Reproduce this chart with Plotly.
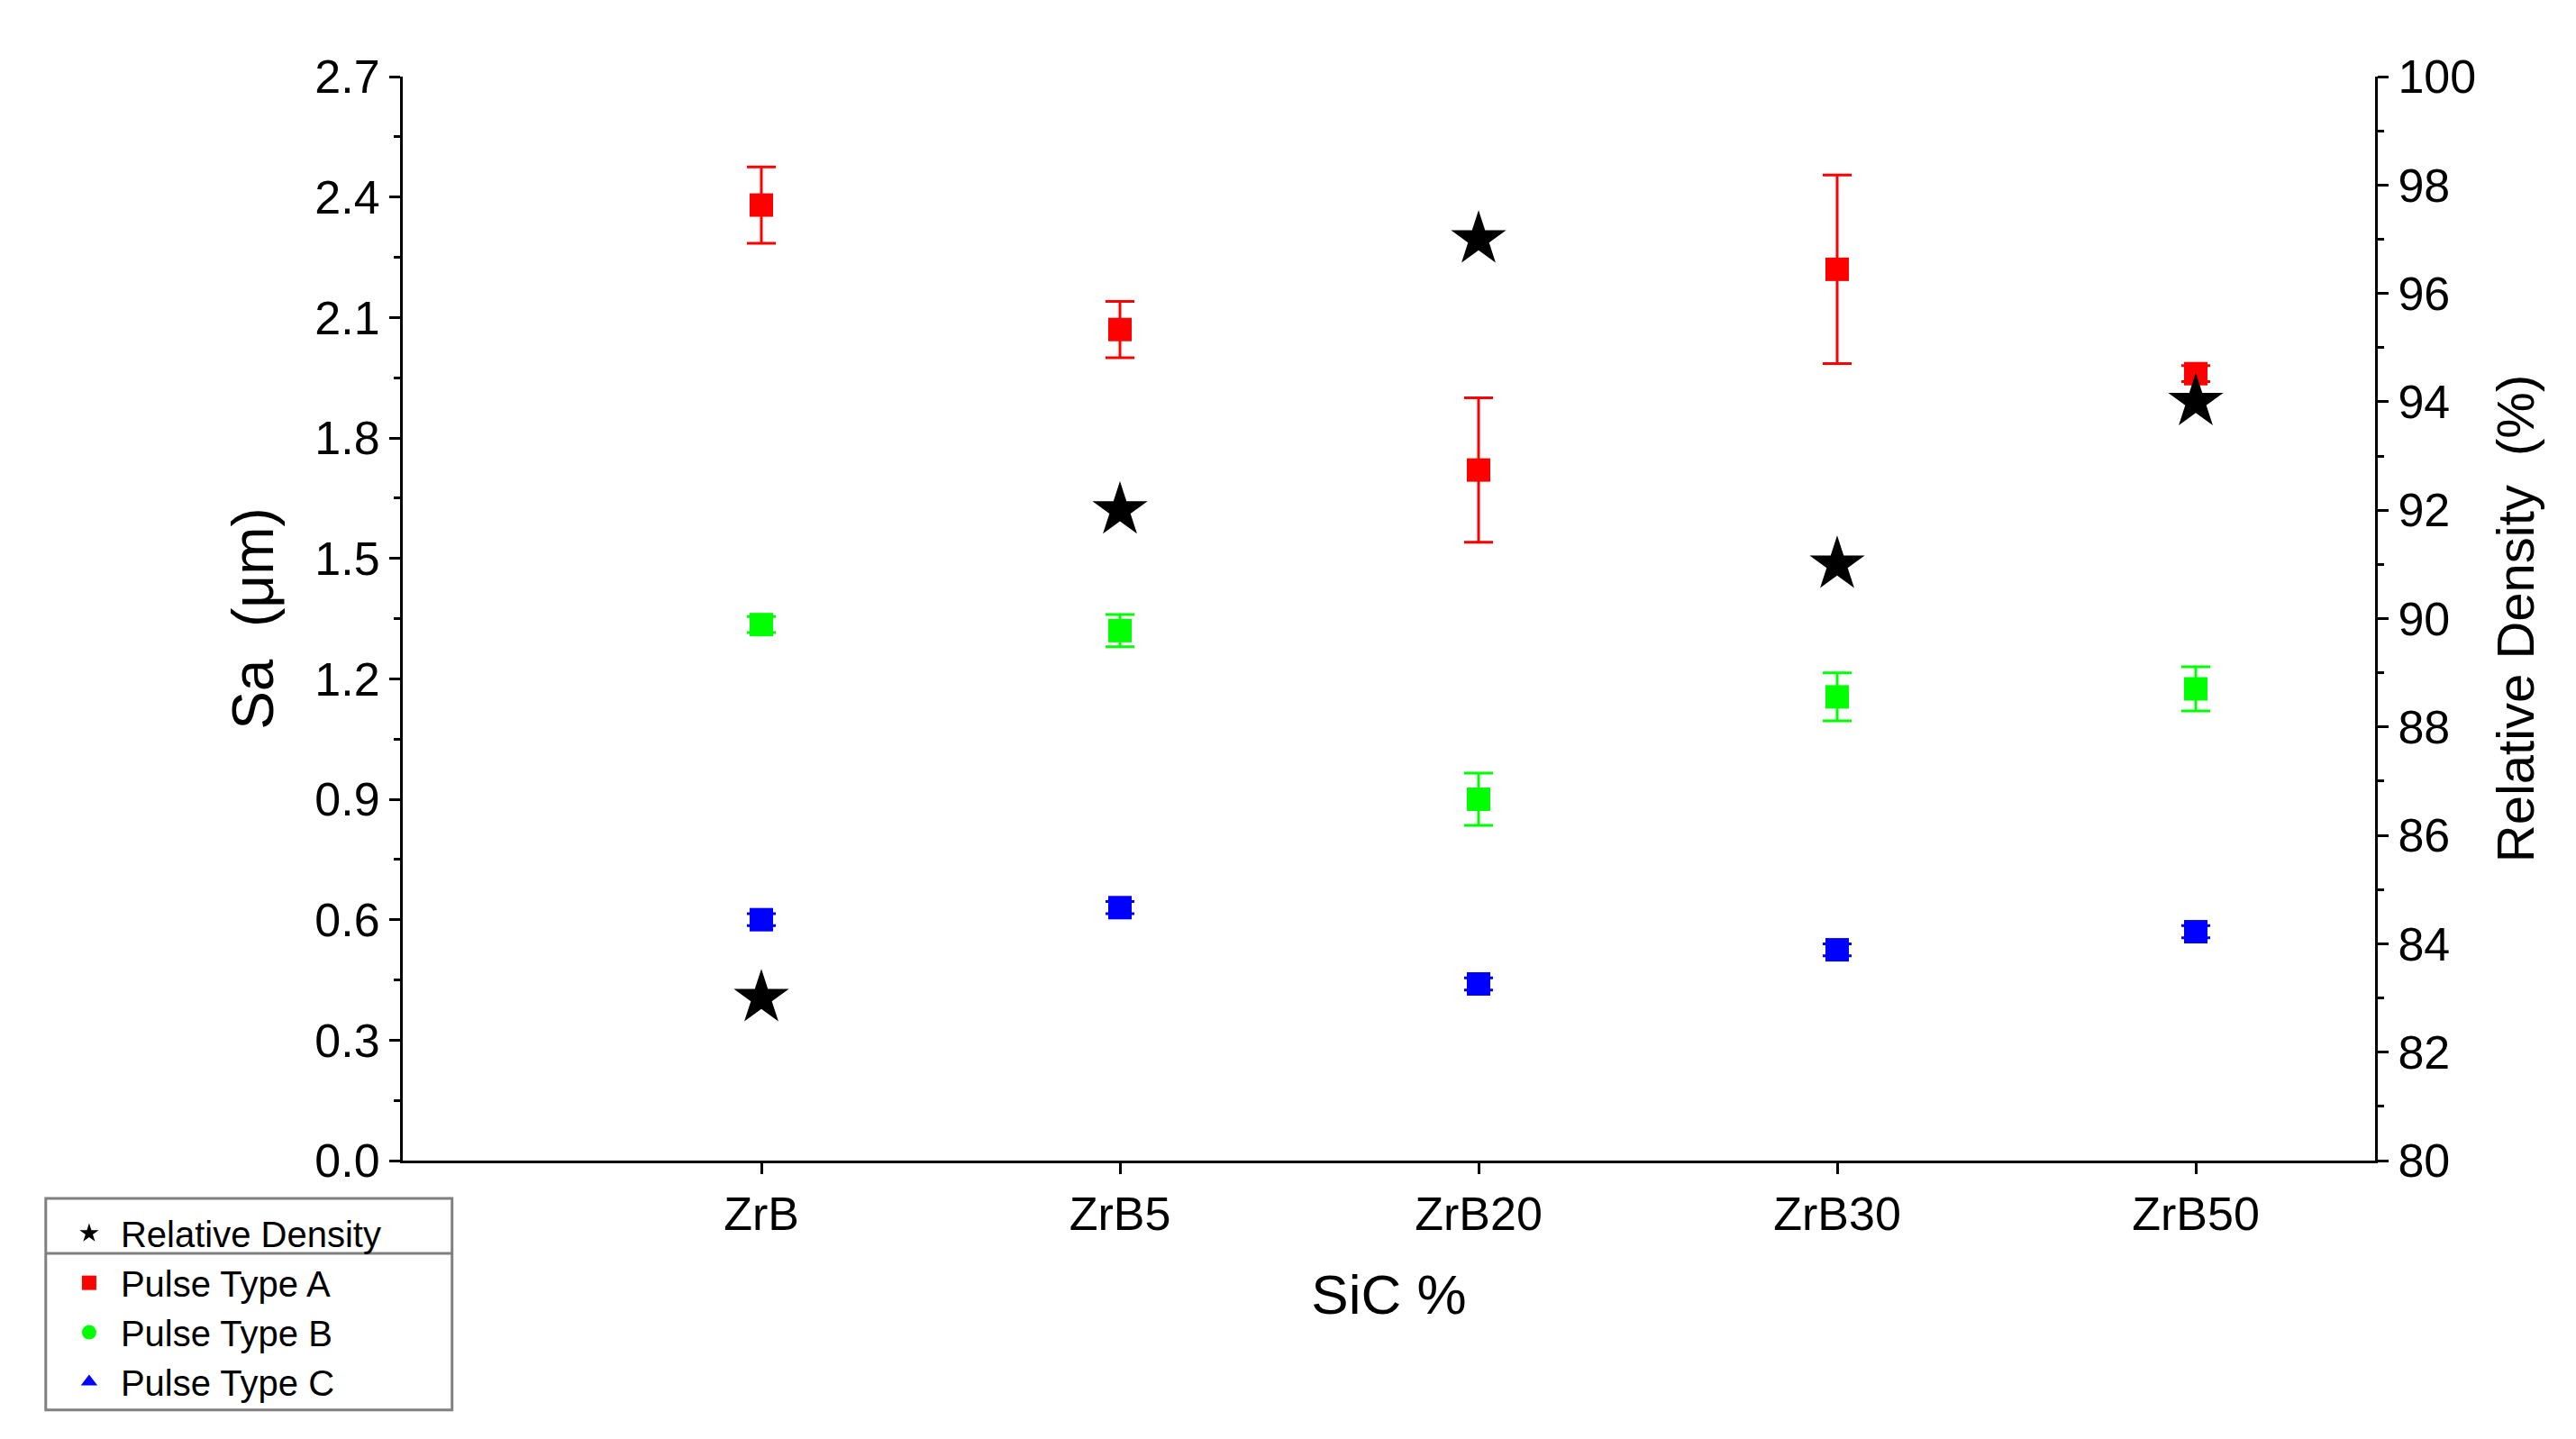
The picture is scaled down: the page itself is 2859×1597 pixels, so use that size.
import plotly.graph_objects as go

categories = ["ZrB", "ZrB5", "ZrB20", "ZrB30", "ZrB50"]
sa_a = [2.38, 2.07, 1.72, 2.22, 1.96]
err_a = [0.095, 0.07, 0.18, 0.235, 0.02]
sa_b = [1.335, 1.32, 0.90, 1.155, 1.175]
err_b = [0.02, 0.04, 0.065, 0.06, 0.055]
sa_c = [0.60, 0.63, 0.44, 0.525, 0.57]
err_c = [0.015, 0.015, 0.015, 0.015, 0.015]
density = [83.0, 92.0, 97.0, 91.0, 94.0]

xi = list(range(len(categories)))
F = "Liberation Sans"
fig = go.Figure()

for vals, errs, col in [(sa_a, err_a, "#ff0000"), (sa_b, err_b, "#00ff00"), (sa_c, err_c, "#0000ff")]:
    fig.add_trace(go.Scatter(x=xi, y=vals, mode="markers", showlegend=False,
                             marker=dict(symbol="square", size=26, color=col),
                             error_y=dict(type="data", array=errs, color=col, thickness=3, width=16)))
fig.add_trace(go.Scatter(x=xi, y=density, mode="markers", yaxis="y2", showlegend=False,
                         marker=dict(symbol="star", size=46, color="black")))

for name, sym, col in [("Relative Density", "star", "black"), ("Pulse Type A", "square", "#ff0000"),
                       ("Pulse Type B", "circle", "#00ff00"), ("Pulse Type C", "triangle-up", "#0000ff")]:
    fig.add_trace(go.Scatter(x=[None], y=[None], mode="markers", name=name,
                             marker=dict(symbol=sym, size=34, color=col)))

axis = dict(showline=True, linecolor="black", linewidth=3, ticks="outside", tickwidth=3,
            ticklen=12, tickcolor="black", showgrid=False, zeroline=False,
            tickfont=dict(size=52, color="black", family=F))
fig.update_layout(
    width=2859, height=1597, paper_bgcolor="white", plot_bgcolor="white",
    margin=dict(l=439, r=231, t=77, b=317),
    font=dict(family=F, color="black"),
    xaxis=dict(axis, range=[-1, 4.5], tickmode="array", tickvals=xi, ticktext=categories,
               title=dict(text="SiC %", font=dict(size=62), standoff=40)),
    yaxis=dict(axis, range=[0, 2.7], tickmode="linear", dtick=0.3, tickformat=".1f",
               minor=dict(ticks="outside", dtick=0.15, ticklen=7, tickwidth=3, tickcolor="black"),
               title=dict(text="Sa  (μm)", font=dict(size=64), standoff=25)),
    yaxis2=dict(axis, range=[80, 100], overlaying="y", side="right", tickmode="linear", dtick=2,
                minor=dict(ticks="outside", dtick=1, ticklen=7, tickwidth=3, tickcolor="black"),
                title=dict(text="Relative Density  (%)", font=dict(size=58), standoff=25)),
    legend=dict(x=-0.175, y=-0.04, xanchor="left", yanchor="top", borderwidth=0,
                bgcolor="rgba(0,0,0,0)", font=dict(size=40, family=F), itemsizing="trace",
                tracegroupgap=0, itemwidth=60),
)
fig.add_shape(type="rect", xref="paper", yref="paper", x0=-0.181, x1=0.025, y0=-0.230, y1=-0.035,
              line=dict(color="#808080", width=3))
fig.add_shape(type="line", xref="paper", yref="paper", x0=-0.181, x1=0.025, y0=-0.0856, y1=-0.0856,
              line=dict(color="#808080", width=3))
fig.write_html("out.html")
